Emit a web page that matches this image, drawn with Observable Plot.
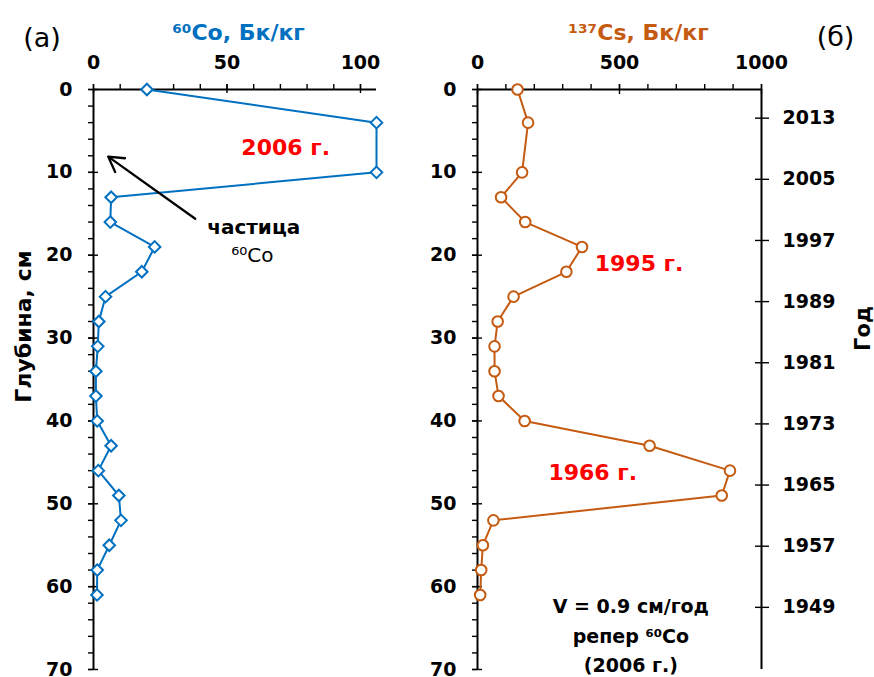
<!DOCTYPE html>
<html><head><meta charset="utf-8">
<script src="https://cdn.jsdelivr.net/npm/d3@7"></script>
<script src="https://cdn.jsdelivr.net/npm/@observablehq/plot@0.6"></script>
<style>
body{margin:0;background:#fff;}
#wrap{position:relative;width:874px;height:677px;overflow:hidden;}
.panel{position:absolute;top:0;}
.panel svg{overflow:visible;max-width:none;}
</style></head><body>
<div id="wrap"><div class="panel" id="pa" style="left:0"></div><div class="panel" id="pb" style="left:440px"></div></div>
<script>
// ---- data ----
const depths = [0, 4, 10, 13, 16, 19, 22, 25, 28, 31, 34, 37, 40, 43, 46, 49, 52, 55, 58, 61];
const co60   = [20, 106, 106, 6.6, 6.3, 22.9, 18.1, 4.5, 2, 1.6, 0.9, 0.9, 1.4, 6.6, 1.8, 9.5, 10.3, 5.9, 1.4, 1.3];
const cs137  = [141, 178, 157, 83, 168, 368, 313, 127, 71, 60, 60, 74, 166, 606, 889, 860, 56, 19, 13, 9.5];

const coTicks = [0, 50, 100];
const coMinorTicks = [0, 10, 20, 30, 40, 50, 60, 70, 80, 90, 100];
const csTicks = [0, 500, 1000];
const csMinorTicks = [0, 100, 200, 300, 400, 500, 600, 700, 800, 900, 1000];
const depthTicks = [0, 10, 20, 30, 40, 50, 60, 70];
const depthMinorTicks = d3.range(0, 71, 2);
const yearTicks = [2013, 2005, 1997, 1989, 1981, 1973, 1965, 1957, 1949];
const yearAtSurface = 2016.75;   // year at depth 0 (year axis)
const cmPerYear = 0.9225;        // year axis spacing
const yearToDepth = y => (yearAtSurface - y) * cmPerYear;
const depthToYear = d => String(Math.round(yearAtSurface - d / cmPerYear));

const coTitle = "⁶⁰Co, Бк/кг";
const csTitle = "¹³⁷Cs, Бк/кг";
const depthTitle = "Глубина, см";
const yearTitle = "Год";
const annotA = [{x: 72, y: 7.1, t: "2006 г."}];
const particle = [{x: 60, y: 16.7, t: "частица"}];
const particleSup = [{x: 59.5, y: 20.0, t: "⁶⁰Co"}];
const arrowA = [{x1: 38.1, y1: 15.6, x2: 5.5, y2: 8.1}];
const annotB = [{x: 569, y: 21.0, t: "1995 г."}, {x: 406, y: 46.3, t: "1966 г."}];
const noteB = [{x: 540, y: 65.65, t: "V = 0.9 см/год\nрепер ⁶⁰Co\n(2006 г.)"}];

const BLUE = "#0070C0", ORANGE = "#C55A11", RED = "#FF0000";
const FONT = "DejaVu Sans";
const style = {fontFamily: FONT, fontSize: "19px", fontWeight: "bold", color: "black", overflow: "visible", background: "transparent"};
const H = 677, MT = 89, MB = 8;
const fmt = d => String(d);

function depthAxisLeft() {
  return [
    Plot.axisY({anchor: "left", ticks: depthMinorTicks, tickSize: 5, fill: "none", strokeWidth: 1.4, label: null}),
    Plot.axisY({anchor: "left", ticks: depthTicks, tickSize: 10, dx: 5, fill: "none", strokeWidth: 1.4, label: null}),
    Plot.axisY({anchor: "left", ticks: depthTicks, tickSize: 5, tickPadding: 16, stroke: "none", tickFormat: fmt, fontSize: 19, fontWeight: "bold", label: null}),
    Plot.ruleX([0], {stroke: "black", strokeWidth: 2})
  ];
}

// ---- panel (а) ----
const pa = Plot.plot({
  width: 440, height: H,
  marginLeft: 93, marginRight: 64, marginTop: MT, marginBottom: MB,
  style,
  x: {domain: [0, 106], axis: null},
  y: {domain: [0, 70], reverse: true, axis: null},
  marks: [
    Plot.axisX({anchor: "top", ticks: coMinorTicks, tickSize: 6, fill: "none", strokeWidth: 1.4, label: null}),
    Plot.axisX({anchor: "top", ticks: coTicks, tickSize: 9, dy: 3, fill: "none", strokeWidth: 1.4, label: null}),
    Plot.axisX({anchor: "top", ticks: coTicks, tickSize: 6, tickPadding: 15, stroke: "none", tickFormat: fmt, fontSize: 19, fontWeight: "bold", label: null}),
    Plot.ruleY([0], {stroke: "black", strokeWidth: 2}),
    ...depthAxisLeft(),
    Plot.line(depths, {x: co60, y: depths, stroke: BLUE, strokeWidth: 2}),
    Plot.dot(depths, {x: co60, y: depths, symbol: "diamond2", r: 5.2, stroke: BLUE, strokeWidth: 2, fill: "white"}),
    Plot.arrow(arrowA, {x1: "x1", y1: "y1", x2: "x2", y2: "y2", stroke: "black", strokeWidth: 2.3, headLength: 11}),
    Plot.text(annotA, {x: "x", y: "y", text: "t", fill: RED, fontSize: 22, fontWeight: "bold"}),
    Plot.text(particle, {x: "x", y: "y", text: "t", fill: "black", fontSize: 20, fontWeight: "bold"}),
    Plot.text(particleSup, {x: "x", y: "y", text: "t", fill: "black", fontSize: 20, fontWeight: "normal"}),
    Plot.text([coTitle], {frameAnchor: "top", textAnchor: "middle", lineAnchor: "middle", dx: 3.5, dy: -57, fill: BLUE, fontSize: 22, fontWeight: "bold"}),
    Plot.text(["(а)"], {frameAnchor: "top-left", textAnchor: "middle", lineAnchor: "middle", dx: 41.5 - 93, dy: 38 - 89, fill: "black", fontSize: 27, fontWeight: "normal"}),
    Plot.text([depthTitle], {frameAnchor: "left", textAnchor: "middle", lineAnchor: "middle", rotate: -90, dx: -70, dy: -53, fill: "black", fontSize: 22, fontWeight: "bold"})
  ]
});
document.getElementById("pa").appendChild(pa);

// ---- panel (б) ----
const pb = Plot.plot({
  width: 434, height: H,
  marginLeft: 37, marginRight: 113, marginTop: MT, marginBottom: MB,
  style,
  x: {domain: [0, 1000], axis: null},
  y: {domain: [0, 70], reverse: true, axis: null},
  marks: [
    Plot.axisX({anchor: "top", ticks: csMinorTicks, tickSize: 6, fill: "none", strokeWidth: 1.4, label: null}),
    Plot.axisX({anchor: "top", ticks: csTicks, tickSize: 10, dy: 4, fill: "none", strokeWidth: 1.4, label: null}),
    Plot.axisX({anchor: "top", ticks: csTicks, tickSize: 6, tickPadding: 15, stroke: "none", tickFormat: fmt, fontSize: 19, fontWeight: "bold", label: null}),
    Plot.ruleY([0], {stroke: "black", strokeWidth: 2}),
    ...depthAxisLeft(),
    Plot.ruleX([1000], {stroke: "black", strokeWidth: 2}),
    Plot.axisY({anchor: "right", ticks: yearTicks.map(yearToDepth), tickSize: 14, dx: -7, fill: "none", strokeWidth: 1.4, label: null}),
    Plot.axisY({anchor: "right", ticks: yearTicks.map(yearToDepth), tickSize: 7, tickPadding: 14, stroke: "none", tickFormat: depthToYear, fontSize: 19, fontWeight: "bold", label: null}),
    Plot.line(depths, {x: cs137, y: depths, stroke: ORANGE, strokeWidth: 2}),
    Plot.dot(depths, {x: cs137, y: depths, symbol: "circle", r: 5.3, stroke: ORANGE, strokeWidth: 2, fill: "white"}),
    Plot.text(annotB, {x: "x", y: "y", text: "t", fill: RED, fontSize: 22, fontWeight: "bold"}),
    Plot.text(noteB, {x: "x", y: "y", text: "t", fill: "black", fontSize: 19, fontWeight: "bold", lineHeight: 1.55}),
    Plot.text([csTitle], {frameAnchor: "top", textAnchor: "middle", lineAnchor: "middle", dx: 19, dy: -57, fill: ORANGE, fontSize: 22, fontWeight: "bold"}),
    Plot.text(["(б)"], {frameAnchor: "top-right", textAnchor: "middle", lineAnchor: "middle", dx: 74, dy: 37 - 89, fill: "black", fontSize: 27, fontWeight: "normal"}),
    Plot.text([yearTitle], {frameAnchor: "right", textAnchor: "middle", lineAnchor: "middle", rotate: -90, dx: 102, dy: -51, fill: "black", fontSize: 21, fontWeight: "bold"})
  ]
});
document.getElementById("pb").appendChild(pb);
</script>
</body></html>
